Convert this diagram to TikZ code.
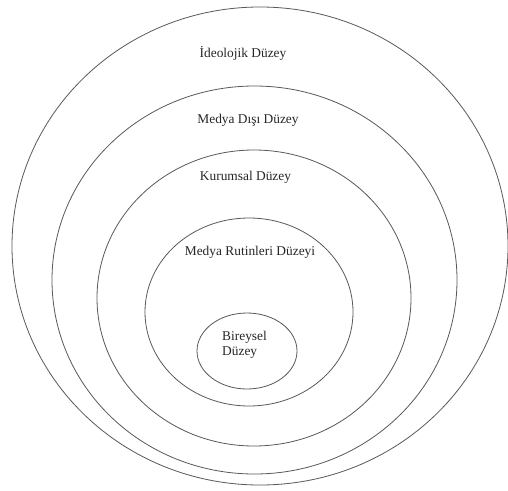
\documentclass[tikz,border=0pt]{standalone}
\usepackage{fontspec}
\setmainfont{Liberation Serif}
\begin{document}
\begin{tikzpicture}[x=1pt,y=-1pt,
  ring/.style={draw=black!65,line width=0.8pt},
  lbl/.style={font=\fontsize{13.4}{15}\selectfont,text=black!85,inner sep=0pt}]
\useasboundingbox (0,0) rectangle (508,490);
\clip (0,0) rectangle (508,490);
\fill[white] (0,0) rectangle (508,490);
\draw[ring] (260,246) ellipse [x radius=248,y radius=239];
\draw[ring] (254.5,280) ellipse [x radius=202.5,y radius=194];
\draw[ring] (254,298) ellipse [x radius=157,y radius=148];
\draw[ring] (249,312) ellipse [x radius=104,y radius=94];
\draw[ring] (247,351) ellipse [x radius=50,y radius=38];
\node[lbl] (ideo) at (243,53) {İdeolojik Düzey};
\node[lbl] (disi) at (248,120) {Medya Dışı Düzey};
\node[lbl] (kurum) at (245.5,177) {Kurumsal Düzey};
\node[lbl] (rutin) at (250,252) {Medya Rutinleri Düzeyi};
\node[lbl,align=left,anchor=west] (birey) at (222,345) {Bireysel\\[-0.5pt]Düzey};
\end{tikzpicture}
\end{document}
